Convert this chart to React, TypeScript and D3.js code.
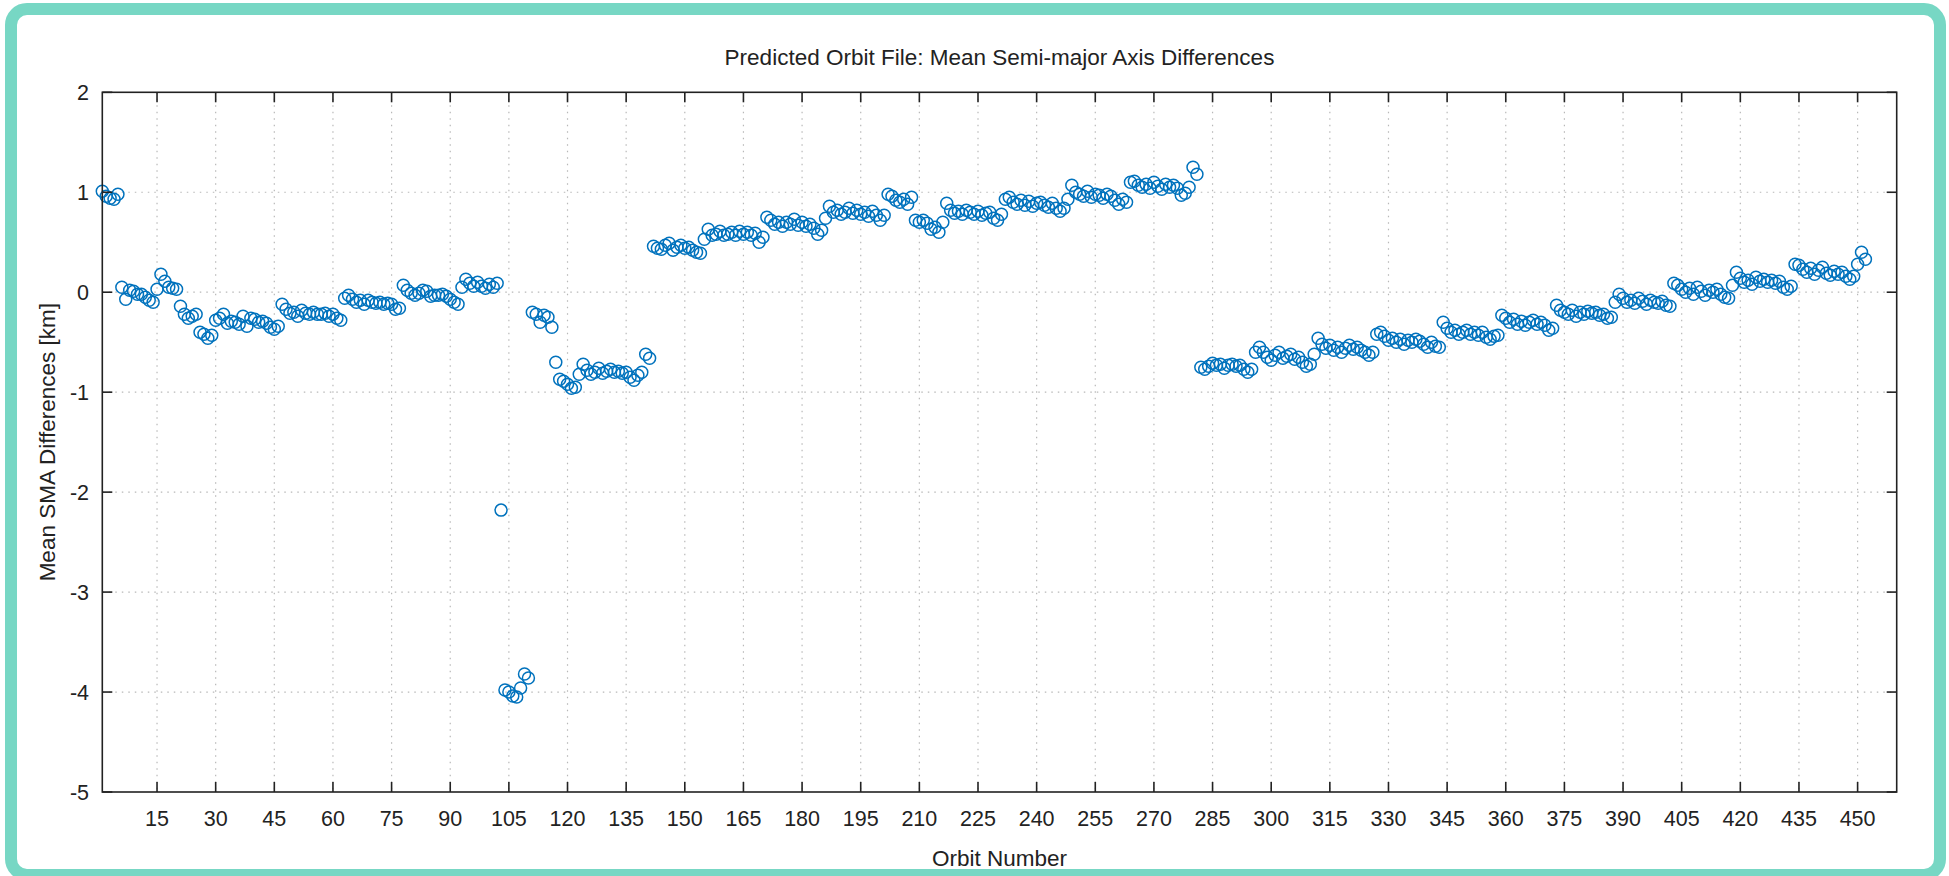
import React from "react";
import * as d3 from "d3";

// Mean SMA differences [km], one value per orbit starting at orbit 1
const smaDiff: number[] = [
  // 1-10
  1.01, 0.96, 0.94, 0.93, 0.98, 0.05, -0.07, 0.02, 0.01, -0.02,
  // 11-20
  -0.02, -0.05, -0.08, -0.1, 0.03, 0.18, 0.11, 0.05, 0.04, 0.03,
  // 21-30
  -0.14, -0.22, -0.26, -0.24, -0.22, -0.4, -0.42, -0.46, -0.43, -0.28,
  // 31-40
  -0.26, -0.22, -0.31, -0.29, -0.3, -0.32, -0.24, -0.34, -0.26, -0.27,
  // 41-50
  -0.3, -0.29, -0.31, -0.35, -0.37, -0.34, -0.12, -0.17, -0.21, -0.2,
  // 51-60
  -0.24, -0.18, -0.21, -0.22, -0.2, -0.22, -0.22, -0.21, -0.24, -0.22,
  // 61-70
  -0.26, -0.28, -0.06, -0.03, -0.07, -0.1, -0.08, -0.12, -0.08, -0.1,
  // 71-80
  -0.11, -0.1, -0.12, -0.11, -0.12, -0.17, -0.16, 0.07, 0.02, -0.01,
  // 81-90
  -0.03, -0.01, 0.02, 0.01, -0.04, -0.03, -0.03, -0.02, -0.04, -0.07,
  // 91-100
  -0.1, -0.12, 0.05, 0.13, 0.09, 0.06, 0.1, 0.06, 0.04, 0.08,
  // 101-110
  0.05, 0.09, -2.18, -3.98, -4.0, -4.04, -4.05, -3.96, -3.82, -3.86,
  // 111-120
  -0.2, -0.22, -0.3, -0.23, -0.25, -0.35, -0.7, -0.87, -0.89, -0.92,
  // 121-130
  -0.96, -0.95, -0.82, -0.72, -0.78, -0.82, -0.8, -0.76, -0.81, -0.79,
  // 131-140
  -0.77, -0.8, -0.79, -0.81, -0.8, -0.85, -0.88, -0.83, -0.8, -0.62,
  // 141-150
  -0.66, 0.46, 0.44, 0.43, 0.47, 0.49, 0.42, 0.45, 0.47, 0.44,
  // 151-160
  0.45, 0.42, 0.4, 0.39, 0.53, 0.63, 0.57, 0.58, 0.61, 0.57,
  // 161-170
  0.58, 0.6, 0.57, 0.61, 0.58, 0.6, 0.57, 0.59, 0.5, 0.55,
  // 171-180
  0.75, 0.72, 0.68, 0.7, 0.66, 0.7, 0.68, 0.73, 0.67, 0.7,
  // 181-190
  0.66, 0.68, 0.64, 0.58, 0.62, 0.74, 0.86, 0.8, 0.82, 0.78,
  // 191-200
  0.8, 0.84, 0.79, 0.82, 0.78, 0.8, 0.76, 0.81, 0.77, 0.72,
  // 201-210
  0.77, 0.98, 0.96, 0.92, 0.9, 0.93, 0.88, 0.95, 0.72, 0.7,
  // 211-220
  0.72, 0.69, 0.63, 0.65, 0.6, 0.7, 0.89, 0.82, 0.79, 0.81,
  // 221-230
  0.78, 0.82, 0.8, 0.78, 0.81, 0.77, 0.79, 0.8, 0.74, 0.72,
  // 231-240
  0.78, 0.93, 0.95, 0.9, 0.88, 0.92, 0.87, 0.91, 0.86, 0.89,
  // 241-250
  0.9, 0.87, 0.85, 0.89, 0.84, 0.81, 0.84, 0.93, 1.07, 1.0,
  // 251-260
  0.98, 0.96, 1.01, 0.95, 0.98, 0.97, 0.94, 0.98, 0.96, 0.92,
  // 261-270
  0.88, 0.93, 0.9, 1.1, 1.11, 1.07, 1.05, 1.08, 1.04, 1.1,
  // 271-280
  1.06, 1.03, 1.08, 1.05, 1.07, 1.04, 0.97, 0.99, 1.05, 1.25,
  // 281-290
  1.18, -0.75, -0.77, -0.74, -0.71, -0.73, -0.72, -0.76, -0.73, -0.72,
  // 291-300
  -0.74, -0.73, -0.77, -0.8, -0.77, -0.6, -0.55, -0.6, -0.65, -0.68,
  // 301-310
  -0.63, -0.6, -0.66, -0.64, -0.62, -0.67, -0.65, -0.7, -0.74, -0.72,
  // 311-320
  -0.62, -0.46, -0.52, -0.56, -0.53, -0.58, -0.55, -0.6, -0.56, -0.53,
  // 321-330
  -0.57, -0.55, -0.58, -0.6, -0.63, -0.6, -0.42, -0.4, -0.44, -0.48,
  // 331-340
  -0.46, -0.5, -0.47, -0.52, -0.48, -0.5, -0.47, -0.49, -0.52, -0.55,
  // 341-350
  -0.5, -0.54, -0.55, -0.3, -0.36, -0.4, -0.38, -0.42, -0.4, -0.38,
  // 351-360
  -0.42, -0.4, -0.43, -0.4, -0.45, -0.47, -0.44, -0.43, -0.23, -0.26,
  // 361-370
  -0.3, -0.27, -0.32, -0.29, -0.33, -0.3, -0.28, -0.32, -0.3, -0.33,
  // 371-380
  -0.38, -0.36, -0.13, -0.18, -0.2, -0.22, -0.18, -0.24, -0.2, -0.22,
  // 381-390
  -0.19, -0.21, -0.2, -0.23, -0.22, -0.26, -0.25, -0.1, -0.02, -0.06,
  // 391-400
  -0.1, -0.08, -0.11, -0.06, -0.09, -0.12, -0.08, -0.1, -0.11, -0.09,
  // 401-410
  -0.13, -0.14, 0.09, 0.07, 0.03, 0.0, 0.04, -0.02, 0.05, 0.01,
  // 411-420
  -0.03, 0.02, 0.0, 0.03, -0.02, -0.05, -0.06, 0.07, 0.2, 0.14,
  // 421-430
  0.1, 0.12, 0.08, 0.15, 0.11, 0.13, 0.1, 0.12, 0.09, 0.11,
  // 431-440
  0.05, 0.03, 0.06, 0.28, 0.27, 0.23, 0.2, 0.24, 0.18, 0.22,
  // 441-450
  0.25, 0.19, 0.17, 0.21, 0.18, 0.2, 0.16, 0.13, 0.16, 0.28,
  // 451-452
  0.4, 0.33,
];

const xTicks: number[] = d3.range(15, 451, 15);
const yTicks: number[] = [-5, -4, -3, -2, -1, 0, 1, 2];

const titleText = "Predicted Orbit File: Mean Semi-major Axis Differences";
const xLabelText = "Orbit Number";
const yLabelText = "Mean SMA Differences [km]";

const W = 1949;
const H = 876;
const left = 102.3;
const right = 1896.7;
const top = 92.3;
const bottom = 792;

export default function App() {
  const x = d3.scaleLinear().domain([1, 460]).range([left, right]);
  const y = d3.scaleLinear().domain([-5, 2]).range([bottom, top]);
  const font = "'Liberation Sans', Arial, Helvetica, sans-serif";
  const textColor = "#222";
  const tickLen = 10;

  return (
    <svg
      width={W}
      height={H}
      style={{ position: "absolute", left: 0, top: 0, display: "block", background: "#fff" }}
    >
      <rect x={0} y={0} width={W} height={H} fill="#fff" />
      <rect
        x={11}
        y={9}
        width={1929}
        height={866}
        rx={16}
        ry={16}
        fill="#fff"
        stroke="#77d7c4"
        strokeWidth={12}
      />
      {/* grid */}
      <g stroke="#b8b8b8" strokeWidth={1.2} strokeDasharray="1.5 5">
        {xTicks.map((t) => (
          <line key={"gx" + t} x1={x(t)} x2={x(t)} y1={top} y2={bottom} />
        ))}
        {yTicks
          .filter((t) => t > -5 && t < 2)
          .map((t) => (
            <line key={"gy" + t} x1={left} x2={right} y1={y(t)} y2={y(t)} />
          ))}
      </g>
      {/* data */}
      <g fill="none" stroke="#0072BD" strokeWidth={1.5}>
        {smaDiff.map((v, i) => (
          <circle key={i} cx={x(i + 1)} cy={y(v)} r={6} />
        ))}
      </g>
      {/* box and ticks */}
      <g stroke="#222" strokeWidth={1.6}>
        <rect x={left} y={top} width={right - left} height={bottom - top} fill="none" />
        {xTicks.map((t) => (
          <g key={"tx" + t}>
            <line x1={x(t)} x2={x(t)} y1={bottom} y2={bottom - tickLen} />
            <line x1={x(t)} x2={x(t)} y1={top} y2={top + tickLen} />
          </g>
        ))}
        {yTicks.map((t) => (
          <g key={"ty" + t}>
            <line x1={left} x2={left + tickLen} y1={y(t)} y2={y(t)} />
            <line x1={right} x2={right - tickLen} y1={y(t)} y2={y(t)} />
          </g>
        ))}
      </g>
      {/* tick labels */}
      <g fontFamily={font} fontSize={21.5} fill={textColor}>
        {xTicks.map((t) => (
          <text key={"lx" + t} x={x(t)} y={826} textAnchor="middle">
            {t}
          </text>
        ))}
        {yTicks.map((t) => (
          <text key={"ly" + t} x={89} y={y(t) + 7.5} textAnchor="end">
            {t}
          </text>
        ))}
      </g>
      {/* title and labels */}
      <text
        x={(left + right) / 2}
        y={65}
        textAnchor="middle"
        fontFamily={font}
        fontSize={22.5}
        fill={textColor}
      >
        {titleText}
      </text>
      <text
        x={(left + right) / 2}
        y={866}
        textAnchor="middle"
        fontFamily={font}
        fontSize={22.5}
        fill={textColor}
      >
        {xLabelText}
      </text>
      <text
        transform={`translate(55, ${(top + bottom) / 2}) rotate(-90)`}
        textAnchor="middle"
        fontFamily={font}
        fontSize={22.5}
        fill={textColor}
      >
        {yLabelText}
      </text>
    </svg>
  );
}
